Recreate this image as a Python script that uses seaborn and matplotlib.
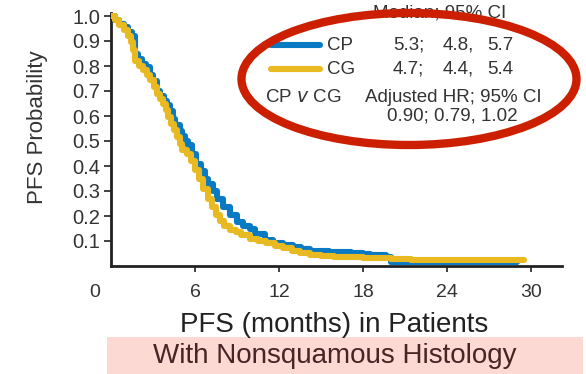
import numpy as np
import pandas as pd
import matplotlib
matplotlib.use("Agg")
import matplotlib.pyplot as plt
import matplotlib.transforms as mtransforms
from matplotlib.patches import Ellipse, Rectangle
from matplotlib.lines import Line2D
import seaborn as sns

# ---- data ----
cp_months = [0, 0.3, 0.6, 0.9, 1.2, 1.5, 1.7, 1.9, 2.2, 2.5, 2.8, 3.0, 3.3, 3.5, 3.8,
             4.0, 4.2, 4.4, 4.6, 4.9, 5.1, 5.3, 5.5, 5.8, 6.1, 6.4, 6.7, 6.9, 7.3, 7.6,
             8.0, 8.5, 9.0, 9.4, 9.9, 10.3, 11.0, 11.6, 12.3, 13.0, 13.6, 14.2, 15.6,
             17.1, 18.0, 18.5, 19.6, 20.0, 29.0]
cp_pfs = [1.0, 0.985, 0.97, 0.955, 0.935, 0.92, 0.85, 0.83, 0.81, 0.795, 0.765, 0.74,
          0.70, 0.68, 0.66, 0.645, 0.62, 0.59, 0.565, 0.54, 0.52, 0.50, 0.485, 0.45,
          0.41, 0.38, 0.35, 0.33, 0.30, 0.27, 0.235, 0.205, 0.175, 0.16, 0.15, 0.13,
          0.105, 0.092, 0.086, 0.076, 0.068, 0.06, 0.058, 0.052, 0.05, 0.044, 0.036,
          0.016, 0.016]

cg_months = [0, 0.3, 0.6, 0.9, 1.2, 1.4, 1.55, 1.7, 2.0, 2.3, 2.6, 2.8, 3.1, 3.3, 3.5,
             3.7, 3.9, 4.1, 4.3, 4.5, 4.7, 4.9, 5.1, 5.4, 5.7, 6.0, 6.3, 6.6, 6.9, 7.2,
             7.5, 7.8, 8.1, 8.5, 8.9, 9.3, 9.9, 10.5, 11.1, 11.7, 12.3, 12.9, 13.5,
             14.2, 15.0, 15.9, 17.1, 18.0, 19.0, 20.0, 21.4, 29.5]
cg_pfs = [1.0, 0.985, 0.965, 0.945, 0.92, 0.895, 0.865, 0.82, 0.80, 0.785, 0.765, 0.745,
          0.715, 0.69, 0.67, 0.65, 0.625, 0.595, 0.57, 0.545, 0.515, 0.49, 0.465, 0.45,
          0.42, 0.385, 0.35, 0.31, 0.27, 0.235, 0.205, 0.18, 0.16, 0.145, 0.135, 0.125,
          0.11, 0.10, 0.092, 0.082, 0.072, 0.062, 0.052, 0.045, 0.04, 0.036, 0.036,
          0.034, 0.032, 0.03, 0.024, 0.024]

x_ticks = [0, 6, 12, 18, 24, 30]
y_ticks = [0.1, 0.2, 0.3, 0.4, 0.5, 0.6, 0.7, 0.8, 0.9, 1.0]
y_tick_labels = ["0.1", "0.2", "0.3", "0.4", "0.5", "0.6", "0.7", "0.8", "0.9", "1.0"]

arms = ["CP", "CG"]
medians = [("5.3;", "4.8,", "5.7"), ("4.7;", "4.4,", "5.4")]
hr_text = "0.90; 0.79, 1.02"

BLUE = "#0a7ac4"
YELLOW = "#e9b922"
TEXT = "#333333"

sns.set_theme(style="white")
plt.rcParams["font.family"] = ["Liberation Sans", "DejaVu Sans"]

W, H = 586, 374
fig = plt.figure(figsize=(W / 100, H / 100), dpi=100)

def fx(px):
    return px / W

def fy(py):
    return 1 - py / H

# axes: x=0 at px 111, x=32.2 at px 562 ; y=0 at py 266, 1.012 at py 13
ax = fig.add_axes([fx(111), fy(266), fx(562) - fx(111), fy(13) - fy(266)])

df_cp = pd.DataFrame({"months": cp_months, "pfs": cp_pfs})
df_cg = pd.DataFrame({"months": cg_months, "pfs": cg_pfs})
sns.lineplot(data=df_cp, x="months", y="pfs", ax=ax, color=BLUE, linewidth=4.4,
             drawstyle="steps-post", estimator=None, solid_capstyle="round",
             solid_joinstyle="round", zorder=3)
sns.lineplot(data=df_cg, x="months", y="pfs", ax=ax, color=YELLOW, linewidth=4.4,
             drawstyle="steps-post", estimator=None, solid_capstyle="round",
             solid_joinstyle="round", zorder=4)

ax.set_xlim(0, 32.2)
ax.set_ylim(0, 1.012)
for s in ["top", "right"]:
    ax.spines[s].set_visible(False)
for s in ["left", "bottom"]:
    ax.spines[s].set_color("#222222")
    ax.spines[s].set_linewidth(2.0)

ax.set_xticks(x_ticks)
ax.set_xticklabels([str(t) for t in x_ticks])
ax.set_yticks(y_ticks)
ax.set_yticklabels(y_tick_labels)
ax.tick_params(axis="x", direction="out", length=4, width=1.3, color="#333333",
               pad=9, labelsize=14, labelcolor=TEXT, bottom=True)
ax.tick_params(axis="y", direction="out", length=5, width=1.3, color="#333333",
               pad=3, labelsize=14.5, labelcolor=TEXT, left=True)
# "0" label sits left of the origin in the reference
lbl0 = ax.get_xticklabels()[0]
lbl0.set_transform(lbl0.get_transform() +
                   mtransforms.ScaledTranslation(-16 / 100, 0, fig.dpi_scale_trans))
ax.xaxis.get_major_ticks()[0].tick1line.set_visible(False)

ax.set_xlabel("")
ax.set_ylabel("")
fig.text(fx(38), fy(127), "PFS Probability", rotation=90, ha="center", va="center",
         fontsize=16, color=TEXT)
fig.text(fx(334), fy(325), "PFS (months) in Patients", ha="center", va="center",
         fontsize=20, color="#222222", zorder=5)

# pink banner
fig.patches.append(Rectangle((fx(107), 0), fx(583) - fx(107), fy(337),
                             transform=fig.transFigure, facecolor="#fdd9d4",
                             edgecolor="none", zorder=0))
fig.text(fx(335), fy(356), "With Nonsquamous Histology", ha="center", va="center",
         fontsize=20, color="#4a2424", zorder=5)

# legend block
fs = 13.5
fig.text(fx(373), fy(13), "Median; 95% CI", ha="left", va="center", fontsize=fs,
         color=TEXT)
line_y = [45, 69]
for arm, col, yy, med in zip(arms, [BLUE, YELLOW], line_y, medians):
    fig.lines.append(Line2D([fx(271), fx(320)], [fy(yy), fy(yy)], transform=fig.transFigure,
                            color=col, linewidth=4.4, solid_capstyle="round"))
    fig.text(fx(327), fy(yy), arm, ha="left", va="center", fontsize=fs, color=TEXT)
    fig.text(fx(393), fy(yy), med[0], ha="left", va="center", fontsize=fs, color=TEXT)
    fig.text(fx(443), fy(yy), med[1], ha="left", va="center", fontsize=fs, color=TEXT)
    fig.text(fx(487), fy(yy), med[2], ha="left", va="center", fontsize=fs, color=TEXT)
fig.text(fx(265), fy(97), r"CP $\it{v}$ CG", ha="left", va="center", fontsize=fs,
         color=TEXT)
fig.text(fx(365), fy(97), "Adjusted HR; 95% CI", ha="left", va="center", fontsize=fs,
         color=TEXT)
fig.text(fx(387), fy(116), hr_text, ha="left", va="center", fontsize=fs, color=TEXT)

# red ellipse
fig.patches.append(Ellipse((fx(409), fy(79)), fx(335), 132 / H, transform=fig.transFigure,
                           facecolor="none", edgecolor="#cc1f00", linewidth=6, zorder=10))

fig.savefig("out.png", dpi=100)
